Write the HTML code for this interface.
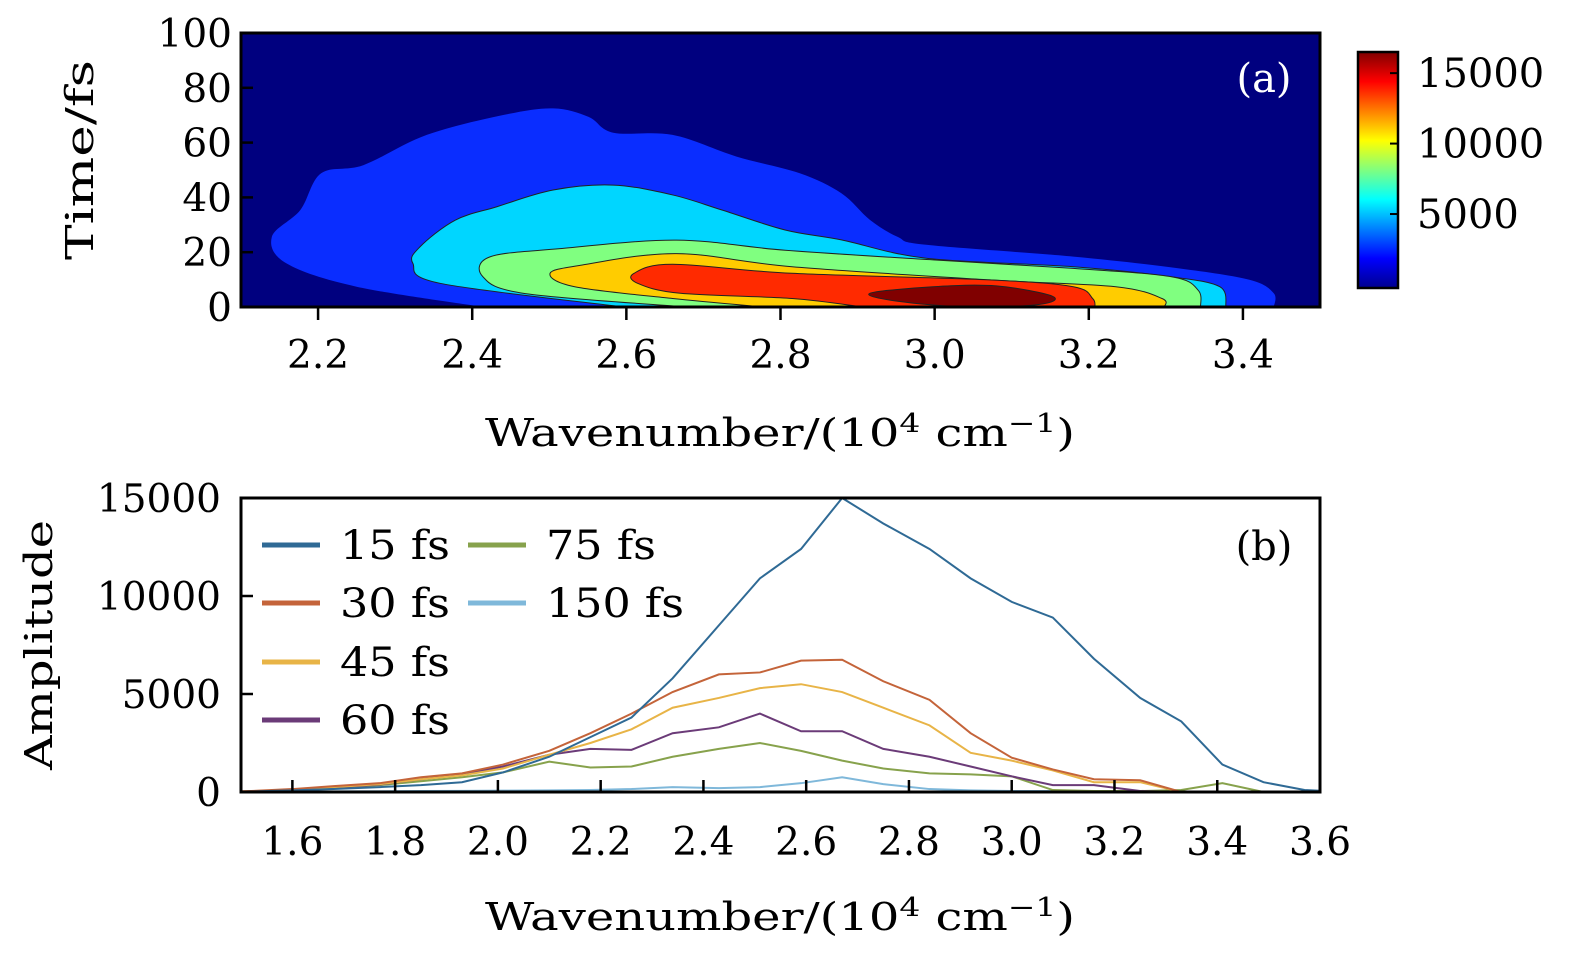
<!DOCTYPE html>
<html><head><meta charset="utf-8"><style>
html,body{margin:0;padding:0;background:#fff;}
svg{display:block;font-family:"DejaVu Serif","Liberation Serif",serif;}
</style></head><body>
<svg id="fig" width="1575" height="955" viewBox="0 0 1575 955" xmlns="http://www.w3.org/2000/svg">
<defs>
<linearGradient id="jet" x1="0" y1="1" x2="0" y2="0">
<stop offset="0" stop-color="#00008f"/><stop offset="0.125" stop-color="#0000ff"/>
<stop offset="0.375" stop-color="#00ffff"/><stop offset="0.625" stop-color="#ffff00"/>
<stop offset="0.875" stop-color="#ff0000"/><stop offset="1" stop-color="#800000"/>
</linearGradient>
<clipPath id="clipA"><rect x="241" y="33" width="1079" height="274"/></clipPath>
<clipPath id="clipB"><rect x="241" y="498" width="1079" height="294"/></clipPath>
</defs>
<g id="panelA"></g>
<g id="panelB"></g>
</svg>
<script>
// ---------- Panel (a) contour data (wavenumber, time) ----------
const levelColors = ["#0a2dff","#00d6ff","#80ff80","#ffcc00","#ff2a00","#800000"];
const levelNames = ["level-2500","level-5000","level-7500","level-10000","level-12500","level-15000"];
const contourX0 = [2.414,2.250,2.159,2.140,2.177,2.204,2.259,2.341,2.441,2.505,2.551,2.583,2.660,2.743,2.825,2.879,2.916,2.952,2.989,3.180,3.317,3.409,3.440,3.440];
const contourT0 = [0,7.4,15.9,25.6,35.4,48.8,51.8,62.8,70.1,72.5,69.4,63.6,62.8,54.9,48.8,41.5,31.8,25.6,22.7,18.4,14.1,9.9,5.0,0];
const contourX1 = [2.597,2.359,2.323,2.332,2.378,2.432,2.505,2.583,2.660,2.724,2.806,2.879,2.989,3.180,3.308,3.370,3.378];
const contourT1 = [0,8.6,15.9,21.9,31.7,36.6,42.7,44.5,40.9,35.4,28.1,24.5,17.8,14.7,11.0,7.4,0];
const contourX2 = [2.679,2.469,2.414,2.423,2.514,2.665,2.806,2.998,3.180,3.308,3.342,3.345];
const contourT2 = [0,4.9,11.0,18.3,21.3,24.4,20.7,17.2,14.1,11.0,6.1,0];
const contourX3 = [2.779,2.660,2.533,2.501,2.542,2.665,2.815,3.071,3.235,3.295,3.298];
const contourT3 = [0,3.1,7.4,12.3,15.3,19.5,14.7,9.9,7.4,3.1,0];
const contourX4 = [2.907,2.815,2.670,2.615,2.610,2.660,2.815,3.071,3.180,3.205,3.208];
const contourT4 = [0,3.1,5.0,8.6,12.3,15.6,12.3,9.9,7.4,3.1,0];
const contourX5 = [2.952,2.916,2.998,3.080,3.153,3.135,3.044];
const contourT5 = [2.1,5.0,7.4,7.7,3.9,0.9,0];
const xTicksA = [2.2,2.4,2.6,2.8,3.0,3.2,3.4];
const xTickLabelsA = ["2.2","2.4","2.6","2.8","3.0","3.2","3.4"];
const yTicksA = [0,20,40,60,80,100];
const cbTicks = [5000,10000,15000];

// ---------- Panel (b) spectra ----------
const wn = [1.45,1.52,1.60,1.68,1.77,1.85,1.93,2.01,2.10,2.18,2.26,2.34,2.43,2.51,2.59,2.67,2.75,2.84,2.92,3.00,3.08,3.16,3.25,3.33,3.41,3.49,3.57,3.65];
const s15 = [0,30,80,150,250,350,500,1000,1800,2800,3800,5800,8500,10900,12400,15000,13700,12400,10900,9700,8900,6800,4800,3600,1400,500,100,0];
const s30 = [0,50,150,300,450,750,950,1400,2100,3000,4000,5100,6000,6100,6700,6750,5650,4700,3000,1750,1150,650,600,0,0,0,0,0];
const s45 = [0,40,120,250,400,650,850,1200,1900,2500,3200,4300,4800,5300,5500,5100,4300,3400,2000,1600,1100,500,500,0,0,0,0,0];
const s60 = [0,30,100,220,380,650,900,1300,1900,2200,2150,3000,3300,4000,3100,3100,2200,1800,1300,800,350,350,50,0,0,0,0,0];
const s75 = [0,30,100,200,350,550,750,1000,1550,1250,1300,1800,2200,2500,2100,1600,1200,950,900,800,100,50,50,100,450,0,0,0];
const s150 = [0,10,20,30,40,50,60,70,80,100,150,250,200,250,450,750,400,150,80,50,50,40,30,20,10,0,0,0];
const seriesLabels = ["15 fs","30 fs","45 fs","60 fs","75 fs","150 fs"];
const seriesColors = ["#2f6a95","#c4643a","#e8b447","#6b3b78","#87a24c","#7fb8da"];
const xTicksB = [1.6,1.8,2.0,2.2,2.4,2.6,2.8,3.0,3.2,3.4,3.6];
const xTickLabelsB = ["1.6","1.8","2.0","2.2","2.4","2.6","2.8","3.0","3.2","3.4","3.6"];
const yTicksB = [0,5000,10000,15000];

const NS="http://www.w3.org/2000/svg";
function mk(tag, attrs, parent){const e=document.createElementNS(NS,tag);for(const k in attrs)e.setAttribute(k,attrs[k]);parent.appendChild(e);return e;}

const AX={x0:241,x1:1320,y0:307,y1:33,xmin:2.1,xmax:3.5,tmin:0,tmax:100};
const sxA=v=>AX.x0+(v-AX.xmin)/(AX.xmax-AX.xmin)*(AX.x1-AX.x0);
const syA=v=>AX.y0-(v-AX.tmin)/(AX.tmax-AX.tmin)*(AX.y0-AX.y1);
const BX={x0:241,x1:1320,y0:792,y1:498,xmin:1.5,xmax:3.6,ymin:0,ymax:15000};
const sxB=v=>BX.x0+(v-BX.xmin)/(BX.xmax-BX.xmin)*(BX.x1-BX.x0);
const syB=v=>BX.y0-(v-BX.ymin)/(BX.ymax-BX.ymin)*(BX.y0-BX.y1);
const CB={y0:288,y1:52,vmin:-250,vmax:16500};
const syC=v=>CB.y0-(v-CB.vmin)/(CB.vmax-CB.vmin)*(CB.y0-CB.y1);

function smoothPath(pts, closed){
  const n=pts.length;let d=`M${pts[0][0]},${pts[0][1]}`;
  const get=i=>closed?pts[(i+n)%n]:pts[Math.max(0,Math.min(n-1,i))];
  const segs=closed?n:n-1;
  for(let i=0;i<segs;i++){
    const p0=get(i-1),p1=get(i),p2=get(i+1),p3=get(i+2);
    const c1=[p1[0]+(p2[0]-p0[0])/6,p1[1]+(p2[1]-p0[1])/6];
    const c2=[p2[0]-(p3[0]-p1[0])/6,p2[1]-(p3[1]-p1[1])/6];
    d+=`C${c1[0]},${c1[1]} ${c2[0]},${c2[1]} ${p2[0]},${p2[1]}`;
  }
  return d+"Z";
}
function title(parent,x,y,len,html,rot){
  const t=mk('text',{x:rot?0:x,y:rot?0:y,'font-size':38,'text-anchor':'middle',textLength:len,lengthAdjust:'spacingAndGlyphs'},parent);
  if(rot)t.setAttribute('transform',`translate(${x},${y}) rotate(-90)`);
  t.innerHTML=html;return t;
}
const WN='Wavenumber/(10<tspan dy="-14" font-size="26">4</tspan><tspan dy="14"> cm</tspan><tspan dy="-14" font-size="26">−1</tspan><tspan dy="14">)</tspan>';

// ----- panel a -----
const A=document.getElementById('panelA');
const bg=mk('rect',{x:241,y:33,width:1079,height:274,fill:'#00007f'},A);


const cg=mk('g',{'clip-path':'url(#clipA)'},A);
const CX=[contourX0,contourX1,contourX2,contourX3,contourX4,contourX5];
const CT=[contourT0,contourT1,contourT2,contourT3,contourT4,contourT5];
for(let k=0;k<6;k++){
  const pts=CX[k].map((x,i)=>[sxA(x),syA(CT[k][i])]);
  const open=CT[k][0]===0&&CT[k][CT[k].length-1]===0;
  const p=mk('path',{d:smoothPath(pts,!open),fill:levelColors[k],stroke:k>0?'#222':'none','stroke-width':k>0?1:0},cg);
  
  
}
mk('rect',{x:241,y:33,width:1079,height:274,fill:'none',stroke:'#000','stroke-width':3},A);
xTicksA.forEach((v,i)=>{
  mk('line',{x1:sxA(v),x2:sxA(v),y1:307,y2:320,stroke:'#000','stroke-width':2.5},A);
  const t=mk('text',{x:sxA(v),y:368,'font-size':39,'text-anchor':'middle'},A);t.textContent=xTickLabelsA[i];
  
  
});
yTicksA.forEach(v=>{
  mk('line',{x1:241,x2:253,y1:syA(v),y2:syA(v),stroke:'#000','stroke-width':2.5},A);
  const t=mk('text',{x:232,y:syA(v)+14,'font-size':39,'text-anchor':'end'},A);t.textContent=String(v);
  
  
});
let t;
t=mk('text',{x:1264,y:92,'font-size':40,'text-anchor':'middle',fill:'#fff'},A);t.textContent='(a)';


t=title(A,93,160,200,'Time/fs',true);


t=title(A,780,446,590,WN,false);


const cb=mk('rect',{x:1358,y:52,width:40,height:236,fill:'url(#jet)',stroke:'#000','stroke-width':2.5},A);


cbTicks.forEach(v=>{
  mk('line',{x1:1390,x2:1398,y1:syC(v),y2:syC(v),stroke:'#000','stroke-width':2},A);
  const tt=mk('text',{x:1417,y:syC(v)+14,'font-size':40},A);tt.textContent=String(v);
  
  
});

// ----- panel b -----
const B=document.getElementById('panelB');
const lg=mk('g',{'clip-path':'url(#clipB)'},B);
const S=[s15,s30,s45,s60,s75,s150];
for(let k=5;k>=0;k--){
  const d=wn.map((x,i)=>(i?'L':'M')+sxB(x)+','+syB(S[k][i])).join('');
  const p=mk('path',{d:d,fill:'none',stroke:seriesColors[k],'stroke-width':2},lg);
  
  
}
mk('rect',{x:241,y:498,width:1079,height:294,fill:'none',stroke:'#000','stroke-width':3},B);
xTicksB.forEach((v,i)=>{
  mk('line',{x1:sxB(v),x2:sxB(v),y1:792,y2:780,stroke:'#000','stroke-width':2.5},B);
  const tt=mk('text',{x:sxB(v),y:855,'font-size':39,'text-anchor':'middle'},B);tt.textContent=xTickLabelsB[i];
  
  
});
yTicksB.forEach(v=>{
  mk('line',{x1:241,x2:253,y1:syB(v),y2:syB(v),stroke:'#000','stroke-width':2.5},B);
  const tt=mk('text',{x:221,y:syB(v)+14,'font-size':39,'text-anchor':'end'},B);tt.textContent=String(v);
  
  
});
const legPos=[[262,545],[262,603],[262,662],[262,720],[468,545],[468,603]];
const legLen=[110,110,110,110,110,138];
seriesLabels.forEach((lab,k)=>{
  const g=mk('g',{},B);
  
  
  mk('line',{x1:legPos[k][0],x2:legPos[k][0]+58,y1:legPos[k][1],y2:legPos[k][1],stroke:seriesColors[k],'stroke-width':5},g);
  const tt=mk('text',{x:legPos[k][0]+78,y:legPos[k][1]+14,'font-size':40,textLength:legLen[k],lengthAdjust:'spacingAndGlyphs'},g);tt.textContent=lab;
});
t=mk('text',{x:1264,y:560,'font-size':40,'text-anchor':'middle'},B);t.textContent='(b)';


t=title(B,52,645,250,'Amplitude',true);


t=title(B,780,930,590,WN,false);


</script>
</body></html>
